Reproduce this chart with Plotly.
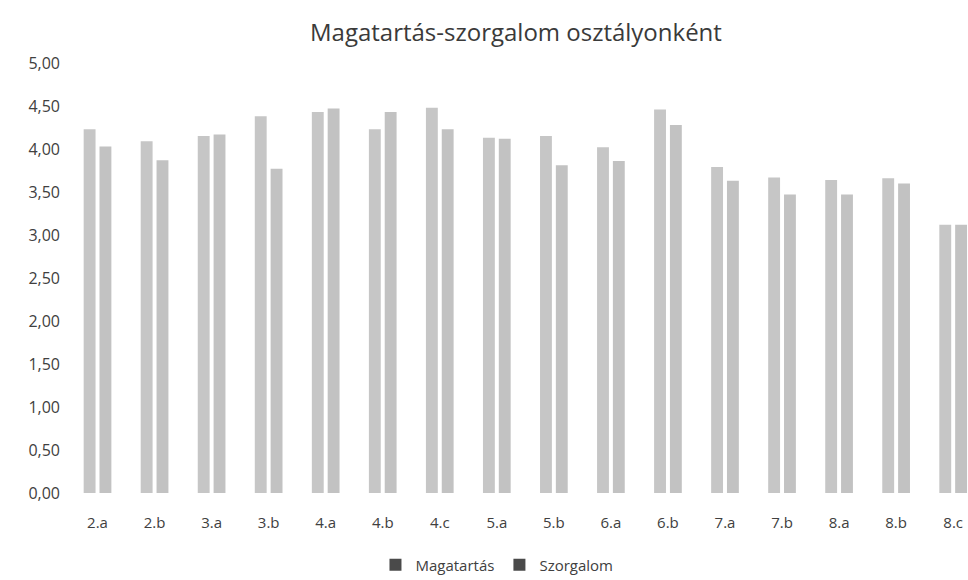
import plotly.graph_objects as go

categories = ["2.a", "2.b", "3.a", "3.b", "4.a", "4.b", "4.c", "5.a",
              "5.b", "6.a", "6.b", "7.a", "7.b", "8.a", "8.b", "8.c"]
magatartas = [4.23, 4.09, 4.15, 4.38, 4.43, 4.23, 4.48, 4.13,
              4.15, 4.02, 4.46, 3.79, 3.67, 3.64, 3.66, 3.12]
szorgalom = [4.03, 3.87, 4.17, 3.77, 4.47, 4.43, 4.23, 4.12,
             3.81, 3.86, 4.28, 3.63, 3.47, 3.47, 3.60, 3.12]
y_ticks = [0, 0.5, 1, 1.5, 2, 2.5, 3, 3.5, 4, 4.5, 5]

font_family = "'Open Sans', Lato, sans-serif"
bar_m = "#c6c6c6"
bar_s = "#c2c2c2"
legend_col = "#4a4a4a"

fig = go.Figure()
fig.add_trace(go.Bar(x=categories, y=magatartas, name="Magatartás",
                     marker=dict(color=bar_m, line=dict(width=0)),
                     showlegend=False))
fig.add_trace(go.Bar(x=categories, y=szorgalom, name="Szorgalom",
                     marker=dict(color=bar_s, line=dict(width=0)),
                     showlegend=False))
# legend entries (dark squares as in the reference)
for nm in ["Magatartás", "Szorgalom"]:
    fig.add_trace(go.Scatter(x=[None], y=[None], mode="markers", name=nm,
                             marker=dict(symbol="square", size=9, color=legend_col)))

fig.update_layout(
    width=968, height=580,
    paper_bgcolor="white", plot_bgcolor="white",
    margin=dict(l=69, r=0, t=63, b=87),
    separators=", ",
    barmode="group", bargap=0.445, bargroupgap=0.25,
    font=dict(family=font_family, color="#404040"),
    title=dict(text="Magatartás-szorgalom osztályonként", x=0.533, xref="container",
               y=0.943, yref="container", xanchor="center", yanchor="middle",
               font=dict(size=24, color="#3a3a3a", family=font_family)),
    xaxis=dict(range=[-0.5, 15.26], showgrid=False, showline=False, zeroline=False,
               ticks="", tickfont=dict(size=15, color="#404040"),
               ticklabelstandoff=19),
    yaxis=dict(range=[0, 5], tickvals=y_ticks, tickformat=".2f",
               showgrid=False, showline=False, zeroline=False, ticks="",
               tickfont=dict(size=16, color="#404040"), ticklabelstandoff=8),
    legend=dict(orientation="h", x=0.5134, xref="container", xanchor="center",
                y=0.026, yref="container", yanchor="middle",
                font=dict(size=15, color="#404040"),
                itemsizing="constant", itemwidth=30, tracegroupgap=0),
)

fig.write_html(
    "out.html",
    config={"displayModeBar": False},
    post_script="document.body.style.margin='0';document.body.style.overflow='hidden';",
)
